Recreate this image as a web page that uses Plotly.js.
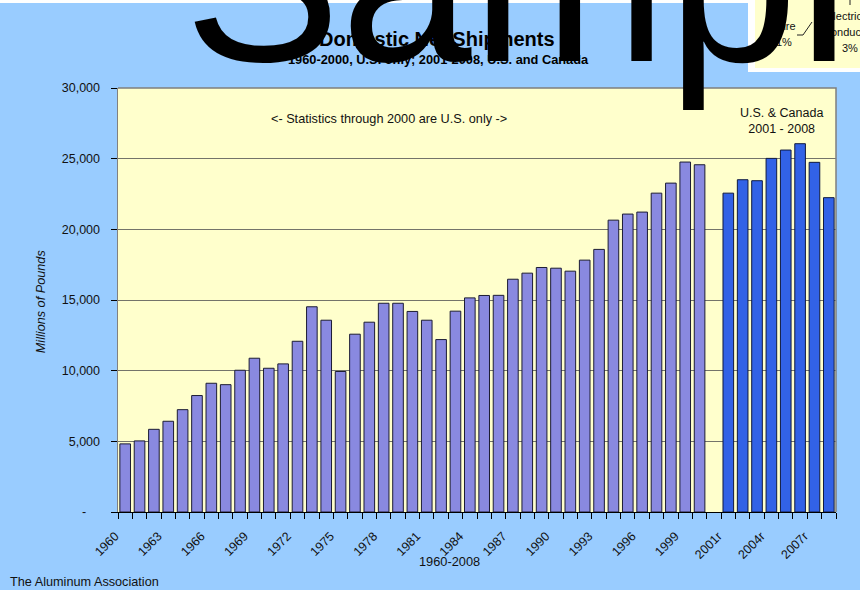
<!DOCTYPE html>
<html>
<head>
<meta charset="utf-8">
<script src="https://cdn.plot.ly/plotly-3.0.1.min.js"></script>
<style>
html,body{margin:0;padding:0;background:#99CCFF;}
#chart{width:860px;height:590px;}
</style>
</head>
<body>
<div id="chart"></div>
<script>
// ---------------- data ----------------
const usCategories = ['1960','1961','1962','1963','1964','1965','1966','1967','1968','1969',
  '1970','1971','1972','1973','1974','1975','1976','1977','1978','1979',
  '1980','1981','1982','1983','1984','1985','1986','1987','1988','1989',
  '1990','1991','1992','1993','1994','1995','1996','1997','1998','1999','2000'];
const gapCategories = [' '];
const naCategories = ['2001r','2002r','2003r','2004r','2005r','2006r','2007r','2008'];

const usShipments = [4820,5030,5850,6420,7240,8240,9110,9010,10030,10880,
  10170,10480,12080,14520,13570,9940,12580,13430,14770,14770,
  14190,13570,12200,14210,15150,15320,15330,16470,16900,17300,
  17250,17040,17820,18580,20650,21080,21220,22560,23270,24760,24570];
const naShipments = [22560,23510,23440,25020,25610,26060,24740,22240];

const yTickValues = [0,5000,10000,15000,20000,25000,30000];
const yTickLabels = ['-\u00a0\u00a0\u00a0\u00a0','5,000','10,000','15,000','20,000','25,000','30,000'];

const categories = usCategories.concat(gapCategories, naCategories);
const labelStep = 3;

// ---------------- layout helpers ----------------
const W = 860, H = 590;
const M = {l:118, r:24, t:88, b:78};
const pw = W - M.l - M.r, ph = H - M.t - M.b;
const px = x => (x - M.l) / pw;
const py = y => (H - M.b - y) / ph;
const FONT = 'Liberation Sans, Arial, Helvetica, sans-serif';

const idx = c => categories.indexOf(c);
const tickvals = [], ticktext = [];
categories.forEach((c, i) => { if (i % labelStep === 0) { tickvals.push(i); ticktext.push(c); } });

const traces = [
  {
    type: 'bar', name: 'U.S.',
    x: usCategories.map(idx), y: usShipments,
    marker: {color: '#8989E0', line: {color: '#1c1c34', width: 1}},
    hoverinfo: 'skip'
  },
  {
    type: 'bar', name: 'U.S. & Canada',
    x: naCategories.map(idx), y: naShipments,
    marker: {color: '#3262E6', line: {color: '#101a40', width: 1}},
    hoverinfo: 'skip'
  }
];

function txt(text, x, y, size, opts) {
  return Object.assign({
    text: text, xref: 'paper', yref: 'paper', x: px(x), y: py(y),
    xanchor: 'center', yanchor: 'middle', showarrow: false,
    font: {family: FONT, size: size, color: '#111111'}
  }, opts || {});
}

const annotations = [
  txt('<b>Domestic Net Shipments</b>', 437, 39, 20, {font:{family:FONT,size:20,color:'#000'}}),
  txt('<b>1960-2000, U.S. only; 2001-2008, U.S. and Canada</b>', 438, 59.6, 12.8, {font:{family:FONT,size:12.8,color:'#000'}}),
  txt('&lt;- Statistics through 2000 are U.S. only -&gt;', 389, 118.7, 12.7),
  txt('U.S. &amp; Canada<br>2001 - 2008', 781, 120.7, 12.5),
  txt('<i>Millions of Pounds</i>', 40.7, 301.5, 12.7, {textangle: -90}),
  txt('1960-2008', 449.5, 561.7, 12.8),
  txt('The Aluminum Association', 8, 581.7, 12.7, {xanchor: 'left'}),
  // inset fragment (top right)
  txt('Wire', 784, 26, 11),
  txt('1%', 783.5, 42, 11),
  txt('Electrical', 848, 16, 11),
  txt('Conductor', 848, 32, 11),
  txt('3%', 850, 48, 11),
  // watermark
  txt('Sample', 182, -21, 235, {xanchor: 'left', font: {family: FONT, size: 235, color: '#000000'}})
];

const shapes = [
  {type:'rect', xref:'paper', yref:'paper', x0:px(-2), x1:px(862), y0:py(3), y1:py(-2), fillcolor:'#ffffff', line:{width:0}, layer:'above'},
  {type:'path', xref:'paper', yref:'paper', path:'M 0 1 L 1 1 L 1 0', line:{color:'#7f7f7f', width:1.5}, layer:'above'},
  {type:'rect', xref:'paper', yref:'paper', x0:px(748), x1:px(862), y0:py(72), y1:py(-2), fillcolor:'#ffffff', line:{width:0}, layer:'above'},
  {type:'rect', xref:'paper', yref:'paper', x0:px(755), x1:px(862), y0:py(68), y1:py(-2), fillcolor:'#FFFFCC', line:{width:0}, layer:'above'},
  {type:'path', xref:'paper', yref:'paper',
   path:`M ${px(797)} ${py(35)} L ${px(803)} ${py(35)} L ${px(812)} ${py(22)}`, line:{color:'#222', width:1}, layer:'above'},
  {type:'path', xref:'paper', yref:'paper',
   path:`M ${px(850)} ${py(-1)} L ${px(850)} ${py(5)}`, line:{color:'#222', width:1}, layer:'above'}
];

const layout = {
  width: W, height: H,
  margin: M,
  paper_bgcolor: '#99CCFF',
  plot_bgcolor: '#FFFFCC',
  showlegend: false,
  barmode: 'overlay',
  bargap: 0.26,
  font: {family: FONT, size: 12.7, color: '#111'},
  xaxis: {
    type: 'linear', range: [-0.5, categories.length - 0.5], fixedrange: true,
    tickmode: 'array', tickvals: tickvals, ticktext: ticktext,
    tickangle: -45, ticks: '', showgrid: false, zeroline: false,
    showline: true, linecolor: '#000000', linewidth: 1,
    tickfont: {family: FONT, size: 12.5, color: '#111'},
    ticklabelstandoff: 11, ticklabelshift: -10,
    minor: {ticks: 'outside', ticklen: 6, tickcolor: '#000', tickwidth: 1, tick0: -0.5, dtick: 1, showgrid: false}
  },
  yaxis: {
    range: [0, 30000], fixedrange: true,
    tickmode: 'array', tickvals: yTickValues, ticktext: yTickLabels,
    ticks: 'outside', ticklen: 6, tickcolor: '#000', tickwidth: 1,
    ticklabelstandoff: 8,
    showgrid: true, gridcolor: '#74746a', gridwidth: 1,
    zeroline: false, showline: true, linecolor: '#808080', linewidth: 1.5,
    tickfont: {family: FONT, size: 12.5, color: '#111'}
  },
  shapes: shapes,
  annotations: annotations
};

Plotly.newPlot('chart', traces, layout, {staticPlot: true, displayModeBar: false});
</script>
</body>
</html>
